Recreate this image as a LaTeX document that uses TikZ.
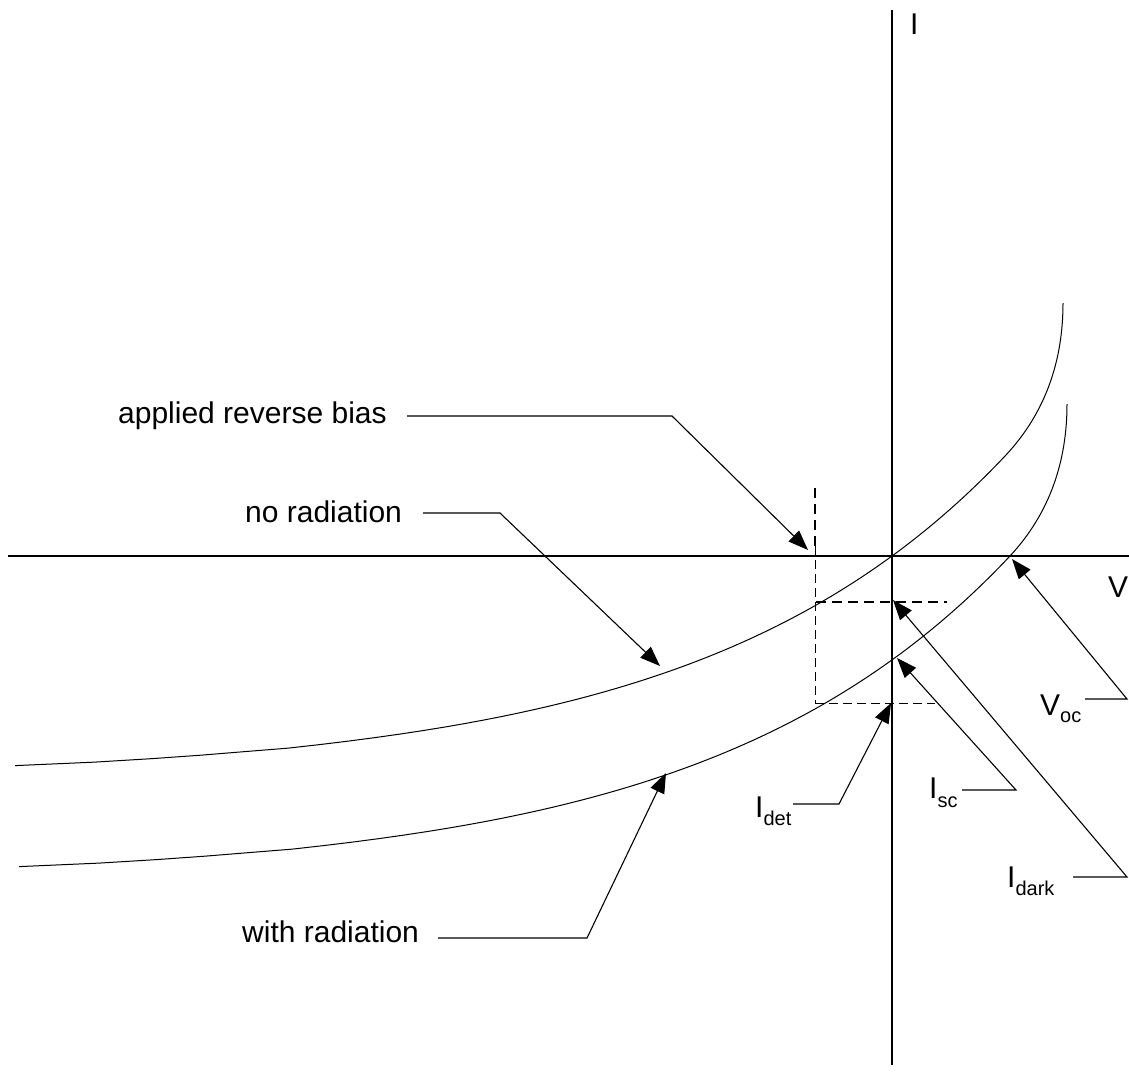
\documentclass[tikz,border=0pt]{standalone}
\usepackage{fontspec}
\setmainfont{Liberation Sans}
\usetikzlibrary{arrows.meta}
\newcommand\mysub[2]{\raisebox{-#1pt}{\fontsize{20}{20}\selectfont #2}}
\begin{document}
\begin{tikzpicture}[x=1pt,y=-1pt,
 curve/.style={line width=1pt},
 axis/.style={line width=1.4pt},
 ptr/.style={line width=1.1pt,-{Triangle[length=20pt,width=15pt]}},
 lbl/.style={inner sep=0pt,anchor=base west,font=\fontsize{30}{36}\selectfont},
 thickdash/.style={line width=2pt,dash pattern=on 10pt off 6pt},
 thindash/.style={line width=1pt,dash pattern=on 9pt off 5pt}]
\useasboundingbox (0,0) rectangle (1129,1072);
% axes
\coordinate (hx0) at (8,556);
\coordinate (hx1) at (1135,556);
\coordinate (vy0) at (892,10);
\coordinate (vy1) at (892,1065);
\draw[axis] (hx0) -- (hx1);
\draw[axis] (vy0) -- (vy1);
\node[lbl] (Ilab) at (910,34) {I};
\node[lbl] (Vlab) at (1108,597) {V};
% curves: no radiation (upper) and with radiation (lower, shifted copy)
\draw[curve] plot[domain=-209.6:101,samples=90,variable=\t] ({892+304*ln(1+\t/222)},{556-\t})
  .. controls (1046,412) and (1063,360) .. (1063,303);
\begin{scope}[shift={(4,101)}]
\draw[curve] plot[domain=-209.6:101,samples=90,variable=\t] ({892+304*ln(1+\t/222)},{556-\t})
  .. controls (1046,412) and (1063,360) .. (1063,303);
\end{scope}
% dashed guides
\coordinate (dv0) at (815,488);
\coordinate (dv1) at (815,546);
\coordinate (dv2) at (815,703);
\coordinate (dh0) at (816,602);
\coordinate (dh1) at (947,602);
\coordinate (dl1) at (935,703);
\draw[thickdash] (dv0) -- (dv1);
\draw[thindash] (dv1) -- (dv2);
\draw[thickdash] (dh0) -- (dh1);
\draw[thindash] (dv2) -- (dl1);
% applied reverse bias
\node[lbl] (arb) at (118,423) {applied reverse bias};
\coordinate (arb-a) at (407,416);
\coordinate (arb-b) at (672,416);
\coordinate (arb-t) at (808,550);
\draw[ptr] (arb-a) -- (arb-b) -- (arb-t);
% no radiation
\node[lbl] (nor) at (245,522) {no radiation};
\coordinate (nor-a) at (423,513);
\coordinate (nor-b) at (500,513);
\coordinate (nor-t) at (660,666);
\draw[ptr] (nor-a) -- (nor-b) -- (nor-t);
% with radiation
\node[lbl] (wr) at (242,942) {with radiation};
\coordinate (wr-a) at (438,938);
\coordinate (wr-b) at (587,938);
\coordinate (wr-t) at (666,773);
\draw[ptr] (wr-a) -- (wr-b) -- (wr-t);
% I_det
\node[lbl] (Idet) at (755,817) {I\mysub{8}{det}};
\coordinate (det-a) at (793,804);
\coordinate (det-b) at (839,804);
\coordinate (det-t) at (891,703);
\draw[ptr] (det-a) -- (det-b) -- (det-t);
% I_sc
\node[lbl] (Isc) at (929,798) {I\mysub{9}{sc}};
\coordinate (sc-a) at (962,790);
\coordinate (sc-b) at (1016,790);
\coordinate (sc-t) at (897,658);
\draw[ptr] (sc-a) -- (sc-b) -- (sc-t);
% I_dark
\node[lbl] (Idark) at (1007,887) {I\mysub{8}{dark}};
\coordinate (dk-a) at (1073,877);
\coordinate (dk-b) at (1127,877);
\coordinate (dk-t) at (893,600);
\draw[ptr] (dk-a) -- (dk-b) -- (dk-t);
% V_oc
\node[lbl] (Voc) at (1040,715) {V\mysub{7}{oc}};
\coordinate (oc-a) at (1085,699);
\coordinate (oc-b) at (1127,699);
\coordinate (oc-t) at (1012,559);
\draw[ptr] (oc-a) -- (oc-b) -- (oc-t);
\end{tikzpicture}
\end{document}
